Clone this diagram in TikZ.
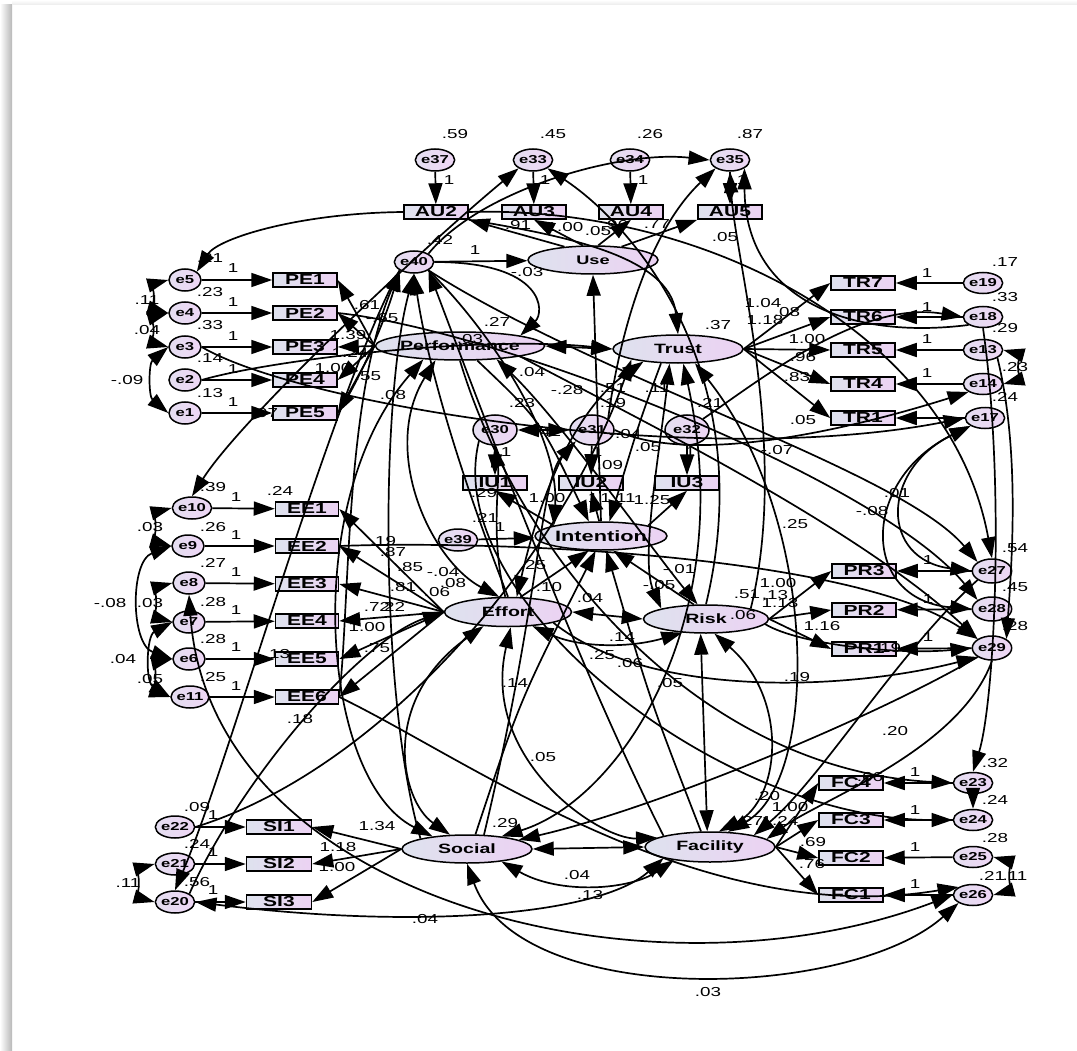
\documentclass[tikz,border=0pt]{standalone}
\usepackage{fontspec}
\setmainfont{Liberation Sans}[FakeStretch=1.45]
\usetikzlibrary{arrows.meta,shapes.geometric}
\definecolor{lavL}{RGB}{222,226,238}
\definecolor{lavR}{RGB}{236,210,243}
\definecolor{errL}{RGB}{228,222,240}
\definecolor{errR}{RGB}{238,214,245}
\newcommand{\mylab}[3]{\node[num] (#1) at (#2) {#3};}
\begin{document}
\begin{tikzpicture}[x=1pt,y=-1pt,
 lat/.style={ellipse, draw, line width=1.5pt, left color=lavL, right color=lavR, inner sep=0pt, font=\fontsize{13.5}{14}\selectfont\bfseries},
 ind/.style={rectangle, draw, line width=1.5pt, left color=lavL, right color=lavR, minimum width=64pt, minimum height=14pt, inner sep=0pt, font=\fontsize{14.5}{14}\selectfont\bfseries},
 err/.style={ellipse, draw, line width=1.5pt, left color=errL, right color=errR, minimum width=32pt, minimum height=22pt, inner sep=0pt, font=\fontsize{11.5}{11}\selectfont\bfseries},
 errbig/.style={err, minimum width=44pt, minimum height=30pt},
 num/.style={font=\fontsize{13}{13}\selectfont, inner sep=0pt},
 con/.style={line width=1.7pt},
 arr/.style={con, -{Triangle[length=21pt,width=14pt]}},
 dbl/.style={con, {Triangle[length=21pt,width=14pt]}-{Triangle[length=21pt,width=14pt]}}]
\useasboundingbox (0,0) rectangle (1077,1051);
\fill[white] (0,0) rectangle (1077,1051);
\shade[left color=white, right color=black!28] (0,5) rectangle (12,1051);
\shade[top color=white, bottom color=black!8] (12,0) rectangle (1077,5);

% ---------- nodes ----------
\node[err] (e37) at (435,160) {e37};
\node[err] (e33) at (533,160) {e33};
\node[err] (e34) at (630,160) {e34};
\node[err] (e35) at (730,160) {e35};
\node[ind] (AU2) at (436,212) {AU2};
\node[ind] (AU3) at (534,212) {AU3};
\node[ind] (AU4) at (631,212) {AU4};
\node[ind] (AU5) at (730,212) {AU5};
\node[lat, minimum width=130pt, minimum height=28pt] (Use) at (593,260) {\fontsize{12.5}{13}\selectfont Use};
\node[err] (e40) at (414,262) {e40};
\node[lat, minimum width=125pt, minimum height=28pt] (Perf) at (460,346) {Performance};
\node[lat, minimum width=130pt, minimum height=28pt] (Trust) at (678,349) {Trust};

\node[ind] (PE1) at (305,280) {PE1};
\node[ind] (PE2) at (305,313) {PE2};
\node[ind] (PE3) at (305,347) {PE3};
\node[ind] (PE4) at (305,380) {PE4};
\node[ind] (PE5) at (305,413) {PE5};
\node[err] (e5) at (185,280) {e5};
\node[err] (e4) at (185,313) {e4};
\node[err] (e3) at (185,347) {e3};
\node[err] (e2) at (185,380) {e2};
\node[err] (e1) at (185,413) {e1};

\node[ind] (TR7) at (863,283) {TR7};
\node[ind] (TR6) at (863,317) {TR6};
\node[ind] (TR5) at (863,350) {TR5};
\node[ind] (TR4) at (863,384) {TR4};
\node[ind] (TR1) at (863,418) {TR1};
\node[err, minimum width=30pt, minimum height=21pt] (e19) at (983,283) {e19};
\node[err, minimum width=30pt, minimum height=21pt] (e18) at (983,317) {e18};
\node[err, minimum width=30pt, minimum height=21pt] (e13) at (983,350) {e13};
\node[err, minimum width=30pt, minimum height=21pt] (e14) at (983,384) {e14};
\node[err, minimum width=30pt, minimum height=21pt] (e17) at (985,418) {e17};

\node[errbig] (e30) at (495,430) {e30};
\node[errbig] (e31) at (592,430) {e31};
\node[errbig] (e32) at (687,430) {e32};
\node[ind] (IU1) at (495,483) {IU1};
\node[ind] (IU2) at (591,483) {IU2};
\node[ind] (IU3) at (687,483) {IU3};
\node[lat, minimum width=132pt, minimum height=28pt] (Intention) at (601,536) {\fontsize{15}{15}\selectfont Intention};
\node[err, minimum width=30pt] (e39) at (458,540) {e39};
\node[lat, minimum width=127pt, minimum height=29pt] (Effort) at (508,612) {Effort};
\node[lat, minimum width=125pt, minimum height=28pt] (Risk) at (706,619) {Risk};

\node[ind, minimum width=63pt] (EE1) at (307,509) {EE1};
\node[ind, minimum width=63pt] (EE2) at (307,546) {EE2};
\node[ind, minimum width=63pt] (EE3) at (307,584) {EE3};
\node[ind, minimum width=63pt] (EE4) at (307,621) {EE4};
\node[ind, minimum width=63pt] (EE5) at (307,659) {EE5};
\node[ind, minimum width=63pt] (EE6) at (307,697) {EE6};
\node[err] (e10) at (192,508) {e10};
\node[err] (e9) at (188,546) {e9};
\node[err] (e8) at (189,583) {e8};
\node[err] (e7) at (189,622) {e7};
\node[err] (e6) at (189,659) {e6};
\node[err] (e11) at (190,697) {e11};

\node[ind] (PR3) at (864,571) {PR3};
\node[ind] (PR2) at (864,610) {PR2};
\node[ind] (PR1) at (864,649) {PR1};
\node[err, minimum width=34pt, minimum height=24pt] (e27) at (992,571) {e27};
\node[err, minimum width=34pt, minimum height=24pt] (e28) at (992,609) {e28};
\node[err, minimum width=34pt, minimum height=24pt] (e29) at (992,648) {e29};

\node[ind, minimum width=65pt] (SI1) at (279,827) {SI1};
\node[ind, minimum width=65pt] (SI2) at (279,864) {SI2};
\node[ind, minimum width=65pt] (SI3) at (279,902) {SI3};
\node[err, minimum width=30pt] (e22) at (175,827) {e22};
\node[err, minimum width=30pt] (e21) at (175,864) {e21};
\node[err, minimum width=30pt] (e20) at (175,902) {e20};
\node[lat, minimum width=130pt, minimum height=28pt] (Social) at (467,849) {Social};
\node[lat, minimum width=130pt, minimum height=30pt] (Facility) at (710,847) {Facility};

\node[ind] (FC4) at (851,783) {FC4};
\node[ind] (FC3) at (851,820) {FC3};
\node[ind] (FC2) at (851,858) {FC2};
\node[ind] (FC1) at (851,895) {FC1};
\node[err, minimum width=30pt, minimum height=21pt] (e23) at (973,783) {e23};
\node[err, minimum width=30pt, minimum height=21pt] (e24) at (973,820) {e24};
\node[err, minimum width=30pt, minimum height=21pt] (e25) at (973,857) {e25};
\node[err, minimum width=30pt, minimum height=21pt] (e26) at (973,895) {e26};

% ---------- measurement model ----------
\foreach \ia/\ib in {e37/AU2,e33/AU3,e34/AU4,e35/AU5} \draw[arr] (\ia) -- (\ib);
\draw[arr] (Use.155) -- (AU2.south east);
\draw[arr] (Use.125) -- (AU3.south);
\draw[arr] (Use.70) -- (AU4.south);
\draw[arr] (Use.25) -- (AU5.south west);
\draw[arr] (e40) -- (Use);
\draw[arr] (Intention.north) -- (Use.south);
\foreach \ia/\ib in {PE1/e5,PE2/e4,PE3/e3,PE4/e2,PE5/e1} {\draw[arr] (\ib) -- (\ia); \draw[arr] (Perf.west) -- (\ia.east);}
\foreach \ia/\ib in {TR7/e19,TR6/e18,TR5/e13,TR4/e14,TR1/e17} {\draw[arr] (\ib) -- (\ia); \draw[arr] (Trust.east) -- (\ia.west);}
\foreach \ia/\ib in {EE1/e10,EE2/e9,EE3/e8,EE4/e7,EE5/e6,EE6/e11} {\draw[arr] (\ib) -- (\ia); \draw[arr] (Effort.west) -- (\ia.east);}
\foreach \ia/\ib in {PR3/e27,PR2/e28,PR1/e29} {\draw[arr] (\ib) -- (\ia); \draw[arr] (Risk.east) -- (\ia.west);}
\foreach \ia/\ib in {SI1/e22,SI2/e21,SI3/e20} {\draw[arr] (\ib) -- (\ia); \draw[arr] (Social.west) -- (\ia.east);}
\foreach \ia/\ib in {FC4/e23,FC3/e24,FC2/e25,FC1/e26} {\draw[arr] (\ib) -- (\ia); \draw[arr] (Facility.east) -- (\ia.west);}
\draw[arr] (e30) -- (IU1);
\draw[arr] (e31) -- (IU2);
\draw[arr] (e32) -- (IU3);
\draw[arr] (Intention.north west) -- (IU1.south);
\draw[arr] (Intention.97) -- (IU2.south);
\draw[arr] (Intention.north east) -- (IU3.south);
\draw[arr] (e39) -- (Intention);

% ---------- small covariances ----------
\draw[dbl] (e5.west) to[bend right=75] (e4.west);
\draw[dbl] (e4.west) to[bend right=75] (e3.west);
\draw[dbl] (e3.west) to[bend right=50] (e1.west);
\draw[dbl] (e10.west) to[bend right=75] (e9.west);
\draw[dbl] (e9.west) to[bend right=70] (e6.west);
\draw[dbl] (e8.west) to[bend right=75] (e7.west);
\draw[dbl] (e7.west) to[bend right=60] (e11.west);
\draw[dbl] (e6.west) to[bend right=75] (e11.west);
\draw[dbl] (e21.west) to[bend right=75] (e20.west);
\draw[dbl] (e13.east) to[bend left=75] (e14.east);
\draw[dbl] (e25.east) to[bend left=75] (e26.east);
\draw[arr] (e23.south) -- (e24.north);
\draw[dbl] (e30.east) -- (e31.west);

% ---------- long curves ----------
\draw[arr] (AU2.west) .. controls (300,213) and (218,238) .. (e5.north east);
\draw[arr] (AU2.east) .. controls (700,205) and (950,330) .. (e27.north);
\draw[arr] (e40.north east) .. controls (480,190) and (620,150) .. (e35.west);
\draw[dbl] (e10.north) .. controls (240,420) and (420,250) .. (e33.south west);
\draw[arr] (Risk.north) .. controls (760,380) and (640,230) .. (e33.south east);
\draw[arr] (e31.north east) .. controls (620,330) and (650,230) .. (e35.south west);
\draw[arr] (Risk.north east) .. controls (790,450) and (735,260) .. (e35.south);
\draw[arr] (e18.south west) .. controls (850,340) and (745,300) .. (e35.south east);
\draw[arr] (e40.east) .. controls (545,262) and (545,312) .. (Perf.north east);
\draw[arr] (AU2.south east) .. controls (560,235) and (670,255) .. (Trust.north);
\draw[arr] (Social.north west) .. controls (380,700) and (380,400) .. (e40.south);
\draw[arr] (Effort.north) .. controls (470,500) and (430,380) .. (e40.south);
\draw[arr] (Facility.north west) .. controls (570,650) and (470,380) .. (e40.south east);
\draw[arr] (PE5.east) .. controls (360,380) and (385,320) .. (e40.south west);
\draw[arr] (EE6.east) .. controls (350,600) and (345,400) .. (e40.south west);
\draw[arr] (e40.south east) .. controls (480,320) and (560,430) .. (Intention.north west);
\draw[dbl] (Perf.east) -- (Trust.west);
\draw[arr] (e2.east) .. controls (270,360) and (480,335) .. (Trust.west);
\draw[arr] (e3.east) .. controls (300,405) and (700,470) .. (e17.west);
\draw[arr] (e40.south west) .. controls (330,400) and (230,760) .. (e20.north);
\draw[arr] (e20.north east) .. controls (240,780) and (360,640) .. (Effort.west);
\draw[arr] (e22.east) .. controls (380,770) and (560,560) .. (Trust.south west);
\draw[dbl] (e8.south) .. controls (210,900) and (650,1010) .. (e26.west);
\draw[dbl] (Social.south) .. controls (520,1010) and (850,1000) .. (e26.south west);
\draw[dbl] (e20.east) .. controls (420,930) and (600,915) .. (Facility.south west);
\draw[dbl] (Social.east) -- (Facility.west);
\draw[dbl] (Social.-20) .. controls (560,895) and (630,890) .. (Facility.200);
\draw[arr] (e29.south west) .. controls (870,720) and (650,810) .. (Social.10);
\draw[arr] (Perf.south) .. controls (520,560) and (700,770) .. (e23.west);
\draw[arr] (e30.south west) .. controls (440,600) and (720,820) .. (e24.west);
\draw[arr] (EE6.east) .. controls (470,760) and (700,930) .. (e26.north west);
\draw[dbl] (e17.south west) .. controls (880,470) and (880,560) .. (e27.west);
\draw[dbl] (e17.south west) .. controls (860,480) and (860,600) .. (e28.west);
\draw[arr] (e18.south) .. controls (1005,480) and (995,700) .. (e23.north);
\draw[arr] (e13.south east) .. controls (1020,450) and (1012,560) .. (e29.north east);
\draw[arr] (Effort.south east) .. controls (650,700) and (850,690) .. (e29.south west);
\draw[arr] (Risk.-5) .. controls (800,645) and (900,655) .. (e29.west);
\draw[arr] (Perf.south east) .. controls (600,400) and (850,520) .. (e29.north west);
\draw[arr] (PE2.east) .. controls (500,330) and (880,480) .. (e28.north west);
\draw[arr] (EE2.east) .. controls (500,540) and (850,555) .. (e29.north west);
\draw[arr] (e40.south east) .. controls (600,380) and (900,470) .. (e27.north west);
\draw[dbl] (Trust.-120) .. controls (660,450) and (640,560) .. (Risk.north west);
\draw[dbl] (Effort.east) -- (Risk.west);
\draw[dbl] (Effort.-30) .. controls (580,648) and (630,648) .. (Risk.-150);
\draw[arr] (Effort.50) -- (Intention.-130);
\draw[arr] (Risk.130) -- (Intention.-50);
\draw[arr] (Perf.-40) .. controls (540,420) .. (Intention.130);
\draw[arr] (Trust.-140) .. controls (640,420) .. (Intention.60);
\draw[arr] (Social.60) .. controls (520,700) .. (Intention.-110);
\draw[arr] (Facility.120) .. controls (650,700) .. (Intention.-70);
\draw[dbl] (Perf.200) .. controls (300,500) and (320,780) .. (Social.160);
\draw[dbl] (Trust.-40) .. controls (820,520) and (820,780) .. (Facility.40);
\draw[dbl] (Trust.-70) .. controls (740,620) and (620,800) .. (Social.20);
\draw[dbl] (Risk.-60) .. controls (790,700) and (780,800) .. (Facility.60);
\draw[dbl] (Effort.-150) .. controls (380,700) and (400,800) .. (Social.140);
\draw[dbl] (Effort.-80) .. controls (480,760) and (600,840) .. (Facility.170);
\draw[dbl] (Perf.-150) .. controls (380,450) and (430,560) .. (Effort.120);
\draw[dbl] (Perf.-20) .. controls (560,420) and (660,560) .. (Risk.120);
\draw[dbl] (Trust.-160) .. controls (560,420) and (530,540) .. (Effort.60);
\draw[dbl] (Facility.100) -- (Risk.-110);
\draw[arr] (Effort.100) .. controls (490,540) and (500,480) .. (e30.south);
\draw[arr] (Social.40) .. controls (540,600) and (540,480) .. (e31.south west);
\draw[arr] (e32.north east) .. controls (760,380) and (860,300) .. (e18.west);
\draw[arr] (e31.east) .. controls (700,470) and (880,420) .. (e14.south west);
\draw[arr] (e27.south west) .. controls (900,650) and (820,780) .. (Facility.15);
\draw[arr] (e29.south) .. controls (960,750) and (820,800) .. (Facility.8);

% ---------- labels ----------
\mylab{a1}{455,134}{.59} \mylab{a2}{553,134}{.45} \mylab{a3}{650,134}{.26} \mylab{a4}{750,134}{.87}
\mylab{a5}{449,180}{1} \mylab{a6}{545,180}{1} \mylab{a7}{643,180}{1} \mylab{a8}{742,180}{1}
\mylab{a9}{518,225}{.91} \mylab{a10}{565,227}{1.00} \mylab{a11}{598,231}{.05} \mylab{a12}{615,225}{.96} \mylab{a13}{657,224}{.77}
\mylab{a14}{725,237}{.05}
\mylab{a15}{440,240}{.42} \mylab{a16}{475,250}{1} \mylab{a17}{527,272}{-.03}
\mylab{a18}{497,322}{.27} \mylab{a19}{470,339}{.03} \mylab{a20}{718,325}{.37}

\mylab{b1}{210,258}{.21} \mylab{b2}{233,268}{1} \mylab{b3}{210,292}{.23} \mylab{b4}{233,302}{1}
\mylab{b5}{210,325}{.33} \mylab{b6}{233,336}{1} \mylab{b7}{210,358}{.14} \mylab{b8}{233,369}{1}
\mylab{b9}{210,393}{.13} \mylab{b10}{233,402}{1}
\mylab{b11}{147,300}{.11} \mylab{b12}{147,330}{.04} \mylab{b13}{127,380}{-.09} \mylab{b14}{265,413}{.97}
\mylab{b15}{367,305}{.61} \mylab{b16}{382,318}{-.65} \mylab{b17}{348,335}{1.39} \mylab{b18}{350,353}{1.24}
\mylab{b19}{333,368}{1.00} \mylab{b20}{368,376}{.55} \mylab{b21}{393,395}{.08}

\mylab{c1}{532,372}{.04} \mylab{c2}{567,390}{-.28} \mylab{c3}{522,403}{.23} \mylab{c4}{613,388}{.51}
\mylab{c5}{613,403}{.19} \mylab{c6}{657,388}{.11} \mylab{c7}{710,403}{.21}
\mylab{c8}{548,432}{.42} \mylab{c9}{625,434}{-.04} \mylab{c10}{648,447}{.05} \mylab{c11}{506,452}{1}
\mylab{c12}{597,452}{1} \mylab{c13}{610,465}{.09} \mylab{c14}{690,452}{1}
\mylab{c15}{484,493}{.29} \mylab{c16}{547,498}{1.00} \mylab{c17}{593,498}{1} \mylab{c18}{618,498}{1.11} \mylab{c19}{652,500}{1.25}
\mylab{c20}{485,518}{.21} \mylab{c21}{500,527}{1}
\mylab{c22}{533,565}{.25} \mylab{c23}{549,587}{.10} \mylab{c24}{590,598}{.04} \mylab{c25}{679,569}{-.01} \mylab{c26}{659,585}{-.05}
\mylab{c27}{622,637}{.14} \mylab{c28}{602,655}{.25} \mylab{c29}{630,663}{.06} \mylab{c30}{743,615}{.06} \mylab{c31}{747,594}{.51}

\mylab{d1}{1005,262}{.17} \mylab{d2}{1005,297}{.33} \mylab{d3}{1005,328}{.29} \mylab{d4}{1015,367}{.23} \mylab{d5}{1005,397}{.24}
\mylab{d6}{927,273}{1} \mylab{d7}{927,307}{1} \mylab{d8}{927,339}{1} \mylab{d9}{927,373}{1}
\mylab{d10}{763,303}{1.04} \mylab{d11}{787,312}{.08} \mylab{d12}{765,320}{1.18} \mylab{d13}{807,339}{1.00}
\mylab{d14}{803,357}{.96} \mylab{d15}{797,377}{.83} \mylab{d16}{803,420}{.05}
\mylab{d17}{777,450}{-.07} \mylab{d18}{897,493}{.01} \mylab{d19}{872,511}{-.08} \mylab{d20}{795,524}{.25}

\mylab{f1}{213,487}{.39} \mylab{f2}{280,491}{.24} \mylab{f3}{236,497}{1} \mylab{f4}{213,527}{.26} \mylab{f5}{236,535}{1}
\mylab{f6}{213,563}{.27} \mylab{f7}{236,572}{1} \mylab{f8}{213,602}{.28} \mylab{f9}{236,610}{1}
\mylab{f10}{213,639}{.28} \mylab{f11}{236,647}{1} \mylab{f12}{213,677}{.25} \mylab{f13}{236,686}{1}
\mylab{f14}{150,527}{.03} \mylab{f15}{110,603}{-.08} \mylab{f16}{150,603}{.03} \mylab{f17}{123,659}{.04} \mylab{f18}{150,679}{.05}
\mylab{f19}{383,541}{.19} \mylab{f20}{393,552}{.87} \mylab{f21}{410,567}{.85} \mylab{f22}{443,572}{-.04}
\mylab{f23}{403,587}{.81} \mylab{f24}{453,583}{.08} \mylab{f25}{437,592}{.06} \mylab{f26}{377,607}{.72}
\mylab{f27}{392,607}{.22} \mylab{f28}{367,627}{1.00} \mylab{f29}{277,654}{.13} \mylab{f30}{377,648}{.75} \mylab{f31}{300,719}{.18}

\mylab{g1}{1015,548}{.54} \mylab{g2}{928,560}{1} \mylab{g3}{1015,587}{.45} \mylab{g4}{928,599}{1}
\mylab{g5}{1015,626}{.28} \mylab{g6}{928,637}{1}
\mylab{g7}{778,583}{1.00} \mylab{g8}{775,595}{.13} \mylab{g9}{780,603}{1.13} \mylab{g10}{822,626}{1.16}
\mylab{g11}{888,648}{.19} \mylab{g12}{797,677}{.19} \mylab{g13}{895,731}{.20}

\mylab{h1}{197,807}{.09} \mylab{h2}{213,815}{1} \mylab{h3}{197,844}{.24} \mylab{h4}{213,852}{1}
\mylab{h5}{197,882}{.56} \mylab{h6}{213,890}{1} \mylab{h7}{128,883}{.11}
\mylab{h8}{377,826}{1.34} \mylab{h9}{338,847}{1.18} \mylab{h10}{337,867}{1.00} \mylab{h11}{425,919}{.04}
\mylab{h12}{505,823}{.29} \mylab{h13}{577,875}{.04} \mylab{h14}{590,895}{.13} \mylab{h15}{708,992}{.03}
\mylab{h16}{543,757}{.05} \mylab{h17}{515,683}{.14} \mylab{h18}{670,683}{.05}
\mylab{h19}{767,796}{.20} \mylab{h20}{790,807}{1.00} \mylab{h21}{750,821}{.27} \mylab{h22}{780,821}{1.24}
\mylab{h23}{995,763}{.32} \mylab{h24}{915,772}{1} \mylab{h25}{870,777}{.66} \mylab{h26}{995,800}{.24}
\mylab{h27}{915,810}{1} \mylab{h28}{995,838}{.28} \mylab{h29}{915,847}{1} \mylab{h30}{813,842}{.69}
\mylab{h31}{812,864}{.76} \mylab{h32}{992,876}{.21} \mylab{h33}{1015,876}{.11} \mylab{h34}{915,884}{1}
\end{tikzpicture}
\end{document}
